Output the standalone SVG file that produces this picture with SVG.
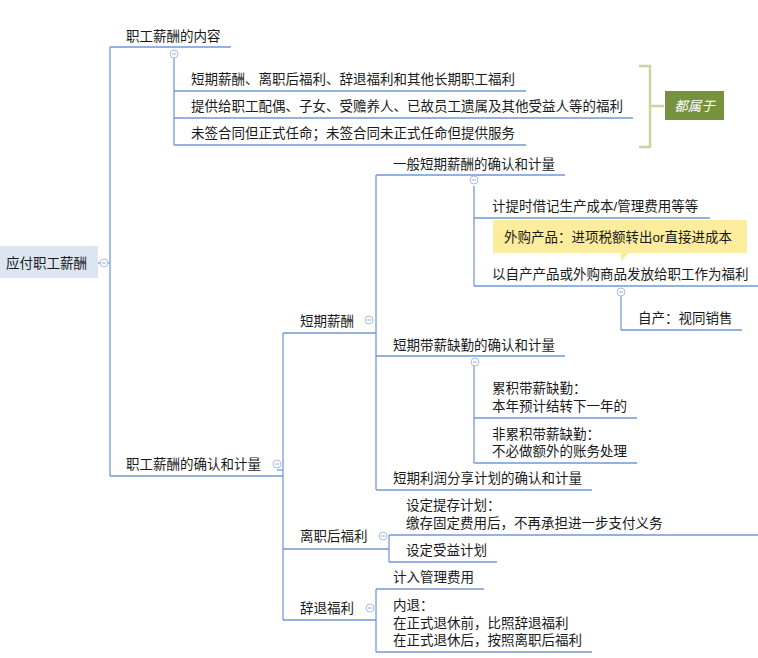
<svg xmlns="http://www.w3.org/2000/svg" width="758" height="658" viewBox="0 0 758 658">
<style>
text{font-family:"Liberation Sans","Noto Sans CJK SC",sans-serif;font-size:13.5px;fill:#1a1a1a}
.ul{stroke:#6f98d8;stroke-width:1.5;fill:none}
.cn{stroke:#86a9e2;stroke-width:1.5;fill:none}
.tg circle{fill:#fff;stroke:#a9bfe6;stroke-width:1}
.tg line{stroke:#a9bfe6;stroke-width:1.2}
.br{stroke:#c4d8a0;stroke-width:2.5;fill:none}
</style>
<defs>
<g id="tog" class="tg"><circle r="4"/><line x1="-2.2" y1="0" x2="2.2" y2="0"/></g>
</defs>
<rect width="758" height="658" fill="#fff"/>

<g id="connectors">
<path class="cn" d="M98 263H110M110 47V476"/>
<path class="cn" d="M174 58V145"/>
<path class="cn" d="M283 333V620M277 470H283"/>
<path class="cn" d="M376 175V490"/>
<path class="cn" d="M474 186V286"/>
<path class="cn" d="M621 296V330"/>
<path class="cn" d="M474 366V463"/>
<path class="cn" d="M389 535V562"/>
<path class="cn" d="M376 589V652"/>
</g>

<g id="root">
<rect x="0" y="246" width="98" height="32" fill="#dce6f1"/>
<text x="6" y="268">应付职工薪酬</text>
<use href="#tog" x="104" y="263"/>
</g>

<g id="n-content">
<path class="ul" d="M110 47H231"/>
<text x="126" y="41">职工薪酬的内容</text>
<use href="#tog" x="174" y="54"/>
</g>
<g id="n-c1"><path class="ul" d="M174 91H526"/><text x="191" y="84">短期薪酬、离职后福利、辞退福利和其他长期职工福利</text></g>
<g id="n-c2"><path class="ul" d="M174 118H633"/><text x="191" y="111">提供给职工配偶、子女、受赡养人、已故员工遗属及其他受益人等的福利</text></g>
<g id="n-c3"><path class="ul" d="M174 145H526"/><text x="191" y="138">未签合同但正式任命；未签合同未正式任命但提供服务</text></g>

<g id="summary">
<path class="br" d="M639 66H650V147H639M650 106H664"/>
<rect x="665" y="91" width="59" height="29" fill="#77923c"/>
<text x="694.5" y="111" text-anchor="middle" style="fill:#fff;font-style:italic">都属于</text>
</g>

<g id="n-recog">
<path class="ul" d="M110 476H283"/>
<text x="126" y="469">职工薪酬的确认和计量</text>
<use href="#tog" x="277" y="464"/>
</g>

<g id="n-short">
<path class="ul" d="M283 333H376"/>
<text x="300" y="325.5">短期薪酬</text>
<use href="#tog" x="369" y="320"/>
</g>

<g id="n-general">
<path class="ul" d="M376 175H565"/>
<text x="393" y="169">一般短期薪酬的确认和计量</text>
<use href="#tog" x="474" y="180"/>
</g>
<g id="n-accrue"><path class="ul" d="M474 218H710"/><text x="492" y="211">计提时借记生产成本/管理费用等等</text></g>
<g id="n-goods">
<path class="ul" d="M474 286H758"/>
<text x="492" y="279">以自产产品或外购商品发放给职工作为福利</text>
<use href="#tog" x="621" y="292"/>
</g>
<g id="callout">
<path d="M493 220H747V253H629L621 261V253H493Z" fill="#fcec9e"/>
<text x="504" y="242">外购产品：进项税额转出or直接进成本</text>
</g>
<g id="n-self"><path class="ul" d="M621 330H742"/><text x="638" y="323">自产：视同销售</text></g>

<g id="n-absence">
<path class="ul" d="M376 356H565"/>
<text x="393" y="350">短期带薪缺勤的确认和计量</text>
<use href="#tog" x="475" y="362"/>
</g>
<g id="n-cum"><path class="ul" d="M474 418H637"/><text x="492" y="393">累积带薪缺勤：</text><text x="492" y="411">本年预计结转下一年的</text></g>
<g id="n-noncum"><path class="ul" d="M474 463H637"/><text x="492" y="439">非累积带薪缺勤：</text><text x="492" y="456">不必做额外的账务处理</text></g>
<g id="n-profit"><path class="ul" d="M376 490H592"/><text x="393" y="483">短期利润分享计划的确认和计量</text></g>

<g id="n-post">
<path class="ul" d="M283 549H389"/>
<text x="300" y="541">离职后福利</text>
<use href="#tog" x="383" y="536"/>
</g>
<g id="n-dc"><path class="ul" d="M389 535H758"/><text x="406" y="510">设定提存计划：</text><text x="406" y="528">缴存固定费用后，不再承担进一步支付义务</text></g>
<g id="n-db"><path class="ul" d="M389 562H497"/><text x="406" y="555">设定受益计划</text></g>

<g id="n-term">
<path class="ul" d="M283 620H376"/>
<text x="300" y="613">辞退福利</text>
<use href="#tog" x="370" y="608"/>
</g>
<g id="n-admin"><path class="ul" d="M376 589H484"/><text x="393" y="582">计入管理费用</text></g>
<g id="n-early"><path class="ul" d="M376 652H592"/><text x="393" y="610">内退：</text><text x="393" y="628">在正式退休前，比照辞退福利</text><text x="393" y="645">在正式退休后，按照离职后福利</text></g>
</svg>
